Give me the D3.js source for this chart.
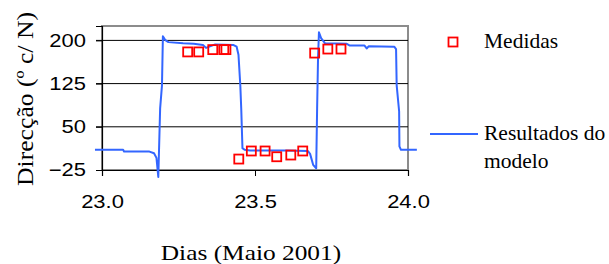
<!DOCTYPE html>
<html>
<head>
<meta charset="utf-8">
<script src="https://cdn.jsdelivr.net/npm/d3@7"></script>
<style>
  html, body { margin: 0; padding: 0; background: #fff; }
  svg { display: block; }
</style>
</head>
<body>
<svg id="chart" width="609" height="264"></svg>
<script>
// model output (day, direction)
const modelDays = [22.977, 23.069, 23.072, 23.155, 23.170, 23.178, 23.184, 23.190, 23.196, 23.199,
  23.206, 23.217, 23.265, 23.300, 23.330, 23.340, 23.355, 23.370, 23.430, 23.440,
  23.446, 23.452, 23.455, 23.459, 23.466, 23.484, 23.600, 23.673, 23.680, 23.690,
  23.700, 23.703, 23.706, 23.709, 23.716, 23.729, 23.800, 23.810, 23.858, 23.865,
  23.872, 23.955, 23.961, 23.963, 23.971, 23.972, 23.977, 24.029];
const modelValues = [10, 10, 7, 7, 4, -4, -37, 82, 122, 207,
  201, 197, 195, 194, 192, 187, 190, 193, 192, 189,
  175, 122, 82, 13, 10, 9, 9, 8, 3, -16,
  -22, 82, 169, 214, 204, 195, 194, 191, 191, 186,
  190, 189, 185, 122, 77, 16, 10, 10];

// measurements
const measDays = [23.280, 23.316, 23.362, 23.398, 23.405, 23.447, 23.488, 23.533, 23.571, 23.617, 23.656, 23.695, 23.738, 23.781];
const measValues = [180, 180, 184, 184, 184, -6, 8, 8, -2, 1, 8, 178, 185, 185];

const xTicks = [23.0, 23.5, 24.0];
const yTicks = [-25, 50, 125, 200];

const svg = d3.select("#chart");
const margin = { top: 26, left: 102 };
const w = 306, h = 144;
const g = svg.append("g").attr("transform", `translate(${margin.left},${margin.top})`);

const x = d3.scaleLinear().domain([23, 24]).range([0, w]);
const y = d3.scaleLinear().domain([-25, 225]).range([h, 0]);

const stretch = (sel, k) => sel.each(function () {
  const len = this.getComputedTextLength();
  this.setAttribute("textLength", len * k);
  this.setAttribute("lengthAdjust", "spacingAndGlyphs");
});

// plot border
g.append("rect")
  .attr("x", 0).attr("y", 0).attr("width", w).attr("height", h)
  .attr("fill", "none").attr("stroke", "#8c8c8c").attr("stroke-width", 2);

// gridlines
g.append("g")
  .selectAll("line")
  .data(yTicks.filter(d => d > -25))
  .join("line")
  .attr("x1", -6).attr("x2", w)
  .attr("y1", d => y(d)).attr("y2", d => y(d))
  .attr("stroke", "#000").attr("stroke-width", 1);

const yAxis = g.append("g")
  .call(d3.axisLeft(y).tickValues(yTicks).tickFormat(d3.format("d")).tickSize(6).tickPadding(10));
yAxis.select(".domain").attr("stroke", "#000").attr("stroke-width", 1.2);
yAxis.selectAll("line").attr("stroke", "#000");
yAxis.selectAll("text")
  .attr("font-family", "Liberation Sans, Arial, sans-serif")
  .attr("font-size", 18)
  .attr("fill", "#000")
  .call(stretch, 1.22);

const xAxis = g.append("g")
  .attr("transform", `translate(0,${h})`)
  .call(d3.axisBottom(x).tickValues(xTicks).tickFormat(d3.format(".1f")).tickSize(6).tickPadding(19));
xAxis.select(".domain").attr("stroke", "#000").attr("stroke-width", 1.2);
xAxis.selectAll("line").attr("stroke", "#000");
xAxis.selectAll("text")
  .attr("font-family", "Liberation Sans, Arial, sans-serif")
  .attr("font-size", 18)
  .attr("fill", "#000")
  .call(stretch, 1.22);

// model line
const line = d3.line().x((d, i) => x(modelDays[i])).y(d => y(d));
g.append("path")
  .datum(modelValues)
  .attr("d", line)
  .attr("fill", "none")
  .attr("stroke", "#3366ff")
  .attr("stroke-width", 2)
  .attr("stroke-linejoin", "round");

// measured squares
const sq = 9;
g.append("g")
  .selectAll("rect")
  .data(measValues)
  .join("rect")
  .attr("x", (d, i) => x(measDays[i]) - sq / 2)
  .attr("y", d => y(d) - sq / 2)
  .attr("width", sq).attr("height", sq)
  .attr("fill", "none")
  .attr("stroke", "#ff0000")
  .attr("stroke-width", 1.8);

// axis titles
svg.append("text")
  .attr("x", 251).attr("y", 260)
  .attr("text-anchor", "middle")
  .attr("font-family", "Liberation Serif, Times New Roman, serif")
  .attr("font-size", 21.5)
  .text("Dias (Maio 2001)")
  .call(stretch, 1.18);

svg.append("text")
  .attr("transform", "translate(33,99) rotate(-90)")
  .attr("text-anchor", "middle")
  .attr("font-family", "Liberation Serif, Times New Roman, serif")
  .attr("font-size", 22.5)
  .style("white-space", "pre")
  .text("Direcção (º c/ N)")
  .attr("textLength", 174)
  .attr("lengthAdjust", "spacingAndGlyphs");

// legend
const legend = svg.append("g")
  .attr("font-family", "Liberation Serif, Times New Roman, serif")
  .attr("font-size", 21.5);
legend.append("rect")
  .attr("x", 453 - sq / 2).attr("y", 42 - sq / 2)
  .attr("width", sq).attr("height", sq)
  .attr("fill", "none").attr("stroke", "#ff0000").attr("stroke-width", 1.8);
legend.append("text").attr("x", 484).attr("y", 48).text("Medidas");
legend.append("line")
  .attr("x1", 430).attr("x2", 478).attr("y1", 134).attr("y2", 134)
  .attr("stroke", "#3366ff").attr("stroke-width", 2);
legend.append("text").attr("x", 484).attr("y", 140).text("Resultados do");
legend.append("text").attr("x", 484).attr("y", 168).text("modelo");
</script>
</body>
</html>
